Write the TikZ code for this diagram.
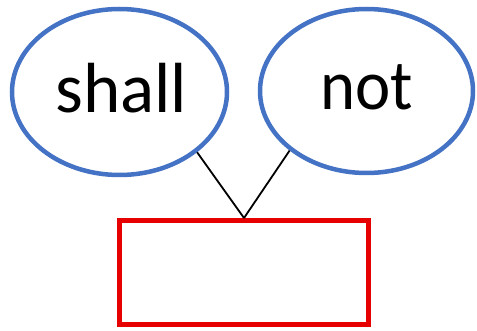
\documentclass[tikz,border=0pt]{standalone}
\usepackage{fontspec}
\setmainfont{Carlito}
\usetikzlibrary{shapes.geometric}
\definecolor{ovalblue}{RGB}{68,114,196}
\definecolor{boxred}{RGB}{230,0,0}
\begin{document}
\begin{tikzpicture}[x=1pt,y=-1pt,
  oval/.style={ellipse,draw=ovalblue,line width=4.5pt,inner sep=0pt,
    font=\fontsize{71}{75}\selectfont,text depth=0pt},
  link/.style={draw=black,line width=1.8pt},
  redbox/.style={rectangle,draw=boxred,line width=5pt,inner sep=0pt}]
\useasboundingbox (0,0) rectangle (477,331);
\node[oval,minimum width=215pt,minimum height=166pt,text height=41.4pt] (shall) at (119.5,92) {\hspace{4pt}shall};
\node[oval,minimum width=213pt,minimum height=164pt,text height=38pt] (not) at (366.5,91) {\scalebox{0.94}[1]{not}\hspace{8pt}};
\node[redbox,minimum width=249pt,minimum height=104pt] (box) at (244,272.5) {};
\draw[link] (shall.south east) -- (box.north);
\draw[link] (not.south west) -- (box.north);
\end{tikzpicture}
\end{document}
